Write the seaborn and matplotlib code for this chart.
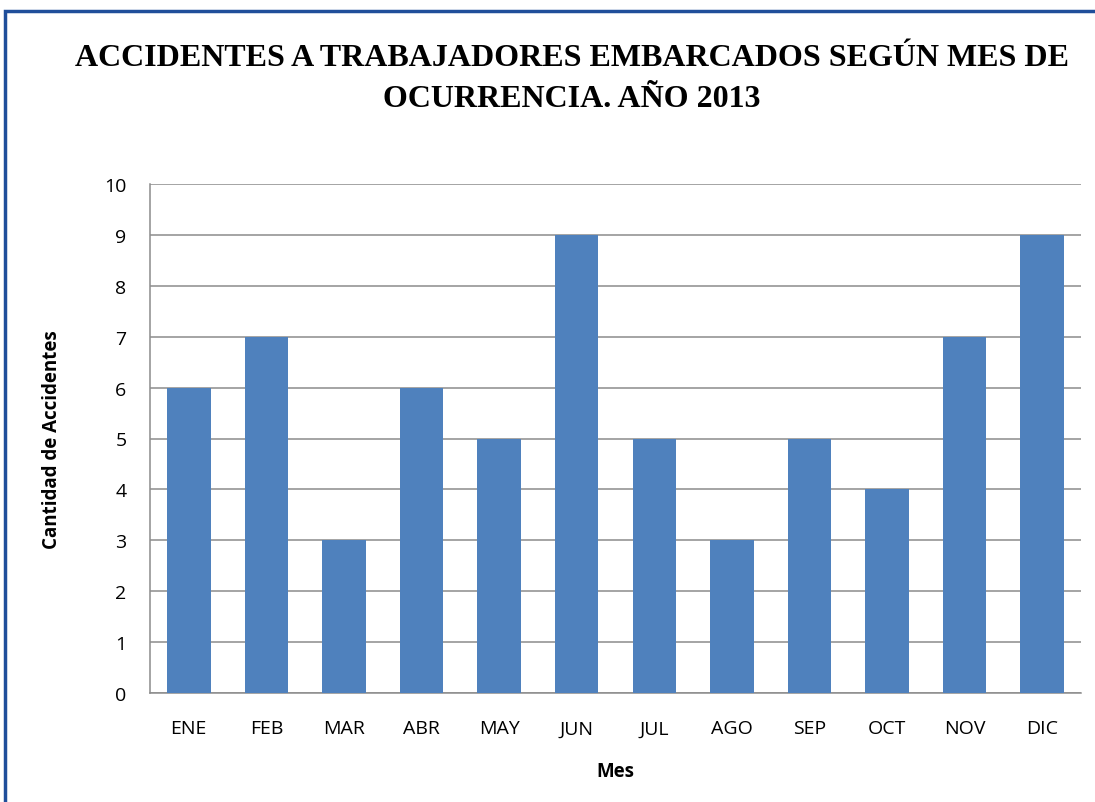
import matplotlib
matplotlib.use("Agg")
import matplotlib.pyplot as plt
import seaborn as sns
import pandas as pd
from matplotlib.patches import Rectangle

# data
meses = ["ENE", "FEB", "MAR", "ABR", "MAY", "JUN", "JUL", "AGO", "SEP", "OCT", "NOV", "DIC"]
accidentes = [6, 7, 3, 6, 5, 9, 5, 3, 5, 4, 7, 9]

df = pd.DataFrame({"Mes": meses, "Accidentes": accidentes})

sns.set_theme(style="white")
plt.rcParams['font.family'] = ['Open Sans', 'DejaVu Sans']
plt.rcParams['text.color'] = 'black'
plt.rcParams['axes.labelcolor'] = 'black'
plt.rcParams['xtick.color'] = 'black'
plt.rcParams['ytick.color'] = 'black'

fig = plt.figure(figsize=(10.95, 8.03), dpi=100)
ax = fig.add_axes([150 / 1095, 1 - 694 / 803, (1081 - 150) / 1095, (694 - 185) / 803])

sns.barplot(data=df, x="Mes", y="Accidentes", color="#4F81BD", width=0.56,
            saturation=1, linewidth=0, ax=ax, zorder=3)

ax.set_ylim(0, 10)
ax.set_yticks(range(0, 11))
ax.set_xlim(-0.5, len(meses) - 0.5)
ax.yaxis.grid(True, color="#8c8c8c", linewidth=1.1, zorder=0)
ax.set_axisbelow(True)

# category boundary ticks on x
ax.set_xticks([i - 0.5 for i in range(len(meses) + 1)], minor=True)
ax.tick_params(axis="x", which="minor", length=7, width=1.1, color="#8c8c8c", direction="out")
ax.tick_params(axis="x", which="major", length=0, labelsize=14, pad=19)
ax.tick_params(axis="y", length=7, width=1.1, color="#8c8c8c", direction="out", labelsize=14, pad=10)

for s in ["top", "right"]:
    ax.spines[s].set_visible(False)
for s in ["left", "bottom"]:
    ax.spines[s].set_color("#8c8c8c")
    ax.spines[s].set_linewidth(1.1)

ax.set_xlabel("Mes", fontsize=13.5, fontweight="bold", labelpad=17)
ax.set_ylabel("Cantidad de Accidentes", fontsize=13.5, fontweight="bold", labelpad=30)

fig.text(572 / 1095, 1 - 79 / 803,
         "ACCIDENTES A TRABAJADORES EMBARCADOS SEGÚN MES DE\nOCURRENCIA. AÑO 2013",
         ha="center", va="center", fontsize=23, fontweight="bold",
         family=["Liberation Serif", "DejaVu Serif"], linespacing=1.55)

# chart border
fig.patches.append(Rectangle((5 / 1095, -0.05), 1.1, 1 - 12 / 803 + 0.05,
                             transform=fig.transFigure, fill=False,
                             edgecolor="#1F4E9A", linewidth=2.5))

plt.savefig("out.png", dpi=100)
plt.close()
